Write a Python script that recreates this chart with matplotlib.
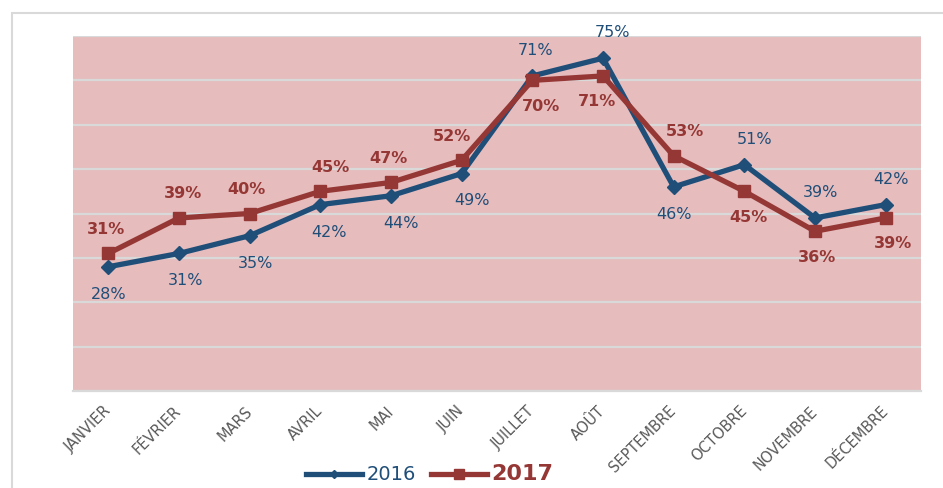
#!/usr/bin/env python3
"""Monthly rates 2016 vs 2017, line chart with data labels."""

import matplotlib

matplotlib.use("Agg")
import matplotlib.pyplot as plt
from matplotlib.lines import Line2D
from matplotlib.patches import Rectangle

months = ["JANVIER", "FÉVRIER", "MARS", "AVRIL", "MAI", "JUIN", "JUILLET",
          "AOÛT", "SEPTEMBRE", "OCTOBRE", "NOVEMBRE", "DÉCEMBRE"]
rate_2016 = [28, 31, 35, 42, 44, 49, 71, 75, 46, 51, 39, 42]
rate_2017 = [31, 39, 40, 45, 47, 52, 70, 71, 53, 45, 36, 39]
# +1 label above the point, -1 below
side_2016 = [-1, -1, -1, -1, -1, -1, 1, 1, -1, 1, 1, 1]
side_2017 = [1, 1, 1, 1, 1, 1, -1, -1, 1, -1, -1, -1]
# horizontal nudge of each label, in pixels
nudge_2016 = [0, 7, 6, 9, 10, 10, 3, 10, 0, 10, 6, 5]
nudge_2017 = [-2, 4, -3, 10, -3, -10, 9, -6, 11, 4, 2, 7]

BLUE = "#1F4E79"
RED = "#953735"
PINK = "#E6BCBD"
GRID = "#D9D9D9"
PX = 0.72  # points per pixel at dpi 100


def main() -> None:
    plt.rcParams["font.family"] = ["DejaVu Sans"]
    fig = plt.figure(figsize=(9.43, 4.89), dpi=100)
    W, H = 943, 489
    ax = fig.add_axes([73 / W, 1 - 392 / H, (921 - 73) / W, (392 - 37) / H])

    # outer chart frame (cropped on right and bottom)
    fig.add_artist(Rectangle((12 / W, -0.1), 1.2, 1 - 14 / H + 0.1, transform=fig.transFigure,
                             fill=False, edgecolor="#D9D9D9", linewidth=1.5))

    x = range(len(months))
    ax.set_facecolor(PINK)
    ax.set_xlim(-0.5, len(months) - 0.5)
    ax.set_ylim(0, 80)
    ax.set_yticks(range(0, 81, 10))
    ax.yaxis.grid(True, color=GRID, linewidth=1.6)
    ax.set_axisbelow(True)
    ax.tick_params(axis="y", left=False, labelleft=False)
    ax.tick_params(axis="x", length=0, pad=12)
    for name, spine in ax.spines.items():
        spine.set_visible(name == "bottom")
    ax.spines["bottom"].set_color(GRID)
    ax.spines["bottom"].set_linewidth(1.6)

    ax.plot(x, rate_2016, color=BLUE, linewidth=3.8, marker="D", markersize=7.5,
            solid_joinstyle="miter", zorder=3)
    ax.plot(x, rate_2017, color=RED, linewidth=3.8, marker="s", markersize=9,
            solid_joinstyle="miter", zorder=4)

    for i in x:
        ax.annotate(f"{rate_2016[i]}%", (i, rate_2016[i]),
                    xytext=(nudge_2016[i] * PX, 19 * side_2016[i]),
                    textcoords="offset points", ha="center", va="center",
                    color=BLUE, fontsize=11.5, zorder=5)
        ax.annotate(f"{rate_2017[i]}%", (i, rate_2017[i]),
                    xytext=(nudge_2017[i] * PX, 18 * side_2017[i]),
                    textcoords="offset points", ha="center", va="center",
                    color=RED, fontsize=11.5, fontweight="bold", zorder=5)

    ax.set_xticks(list(x))
    ax.set_xticklabels(months, rotation=45, ha="right", va="center", rotation_mode="anchor",
                       color="#595959", fontsize=10.5)

    handles = [
        Line2D([], [], color=BLUE, linewidth=3.8, marker="D", markersize=4),
        Line2D([], [], color=RED, linewidth=3.8, marker="s", markersize=6.5),
    ]
    leg = fig.legend(handles, ["2016", "2017"], loc="center", bbox_to_anchor=(430 / W, 1 - 474 / H),
                     ncol=2, frameon=False, handlelength=4.0, columnspacing=1.1, handletextpad=0.35)
    texts = leg.get_texts()
    texts[0].set_color(BLUE)
    texts[0].set_fontsize(14)
    texts[1].set_color(RED)
    texts[1].set_fontsize(16)
    texts[1].set_fontweight("bold")

    fig.savefig("out.png", dpi=100)
    plt.close(fig)


if __name__ == "__main__":
    main()
